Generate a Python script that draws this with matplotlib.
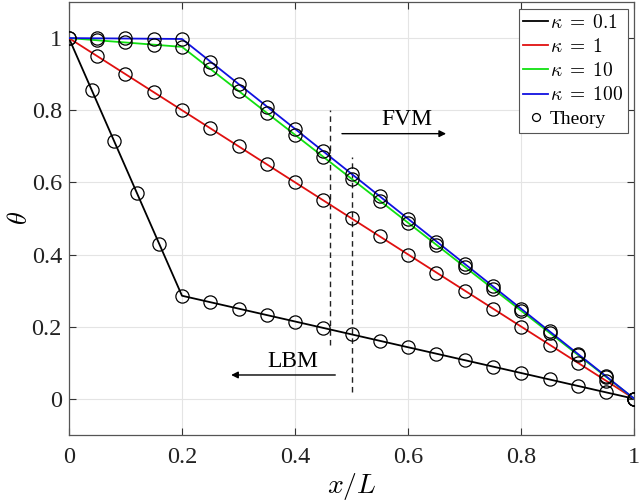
import matplotlib
matplotlib.use("Agg")
import matplotlib.pyplot as plt

plt.rcParams['font.family'] = ['Liberation Serif', 'DejaVu Serif']
plt.rcParams['mathtext.fontset'] = 'cm'

# numerical solution lines (piecewise linear)
line_x = [0.0, 0.2, 1.0]
line_k01 = [1.0, 0.2857, 0.0]
line_k1 = [1.0, 0.8, 0.0]
line_k10 = [1.0, 0.9756, 0.0]
line_k100 = [1.0, 0.9975, 0.0]

# theory markers
th_x_k01 = [0.0, 0.04, 0.08, 0.12, 0.16, 0.2, 0.25, 0.3, 0.35, 0.4, 0.45, 0.5,
            0.55, 0.6, 0.65, 0.7, 0.75, 0.8, 0.85, 0.9, 0.95, 1.0]
th_y_k01 = [1.0, 0.857, 0.714, 0.571, 0.429, 0.286, 0.268, 0.25, 0.232, 0.214, 0.196, 0.179,
            0.161, 0.143, 0.125, 0.107, 0.089, 0.071, 0.054, 0.036, 0.018, 0.0]
th_x_k1 = [0.0, 0.05, 0.1, 0.15, 0.2, 0.25, 0.3, 0.35, 0.4, 0.45, 0.5,
           0.55, 0.6, 0.65, 0.7, 0.75, 0.8, 0.85, 0.9, 0.95, 1.0]
th_y_k1 = [1.0, 0.95, 0.9, 0.85, 0.8, 0.75, 0.7, 0.65, 0.6, 0.55, 0.5,
           0.45, 0.4, 0.35, 0.3, 0.25, 0.2, 0.15, 0.1, 0.05, 0.0]
th_x_k10 = [0.05, 0.1, 0.15, 0.2, 0.25, 0.3, 0.35, 0.4, 0.45, 0.5,
            0.55, 0.6, 0.65, 0.7, 0.75, 0.8, 0.85, 0.9, 0.95, 1.0]
th_y_k10 = [0.994, 0.988, 0.982, 0.976, 0.915, 0.854, 0.793, 0.732, 0.671, 0.610,
            0.549, 0.488, 0.427, 0.366, 0.305, 0.244, 0.183, 0.122, 0.061, 0.0]
th_x_k100 = th_x_k10
th_y_k100 = [0.999, 0.999, 0.998, 0.998, 0.935, 0.873, 0.810, 0.748, 0.686, 0.623,
             0.561, 0.499, 0.436, 0.374, 0.312, 0.249, 0.187, 0.125, 0.062, 0.0]

labels = [r'$\kappa\;=\;0.1$', r'$\kappa\;=\;1$', r'$\kappa\;=\;10$', r'$\kappa\;=\;100$']
colors = ['black', '#e01010', '#10e010', '#1010e0']

fig = plt.figure(figsize=(6.44, 5.01), dpi=100)
ax = fig.add_axes([0.107, 0.132, 0.878, 0.864])

for ly, lab, c in zip([line_k01, line_k1, line_k10, line_k100], labels, colors):
    ax.plot(line_x, ly, color=c, lw=1.3, label=lab, zorder=3)

mk = dict(ls='none', marker='o', mfc='none', mec='black', ms=9.5, mew=0.9, zorder=4)
ax.plot(th_x_k01, th_y_k01, label='Theory', **mk)
ax.plot(th_x_k1, th_y_k1, **mk)
ax.plot(th_x_k10, th_y_k10, **mk)
ax.plot(th_x_k100, th_y_k100, **mk)

# dashed interface markers
ax.plot([0.461, 0.461], [0.15, 0.8], ls=(0, (4, 3)), color='#222222', lw=1.0, zorder=2)
ax.plot([0.501, 0.501], [0.02, 0.67], ls=(0, (4, 3)), color='#222222', lw=1.0, zorder=2)

# arrows and labels
ax.annotate('', xy=(0.672, 0.735), xytext=(0.478, 0.735),
            arrowprops=dict(arrowstyle='-|>', color='black', lw=1.0, mutation_scale=10))
ax.text(0.597, 0.775, 'FVM', ha='center', va='center', fontsize=17)
ax.annotate('', xy=(0.282, 0.066), xytext=(0.476, 0.066),
            arrowprops=dict(arrowstyle='-|>', color='black', lw=1.0, mutation_scale=10))
ax.text(0.396, 0.104, 'LBM', ha='center', va='center', fontsize=17)

ax.set_xlim(0, 1)
ax.set_ylim(-0.1, 1.1)
ax.set_xticks([0, 0.2, 0.4, 0.6, 0.8, 1])
ax.set_xticklabels(['0', '0.2', '0.4', '0.6', '0.8', '1'])
ax.set_yticks([0, 0.2, 0.4, 0.6, 0.8, 1])
ax.set_yticklabels(['0', '0.2', '0.4', '0.6', '0.8', '1'])
ax.tick_params(direction='in', top=True, right=True, labelsize=17.5, length=5, width=0.8,
               colors='#333333', labelcolor='#222222')
ax.tick_params(axis='x', pad=9)
ax.tick_params(axis='y', pad=5)
ax.grid(True, color='#e4e4e4', lw=0.8)
ax.set_axisbelow(True)
for s in ax.spines.values():
    s.set_color('#555555')
    s.set_linewidth(0.9)

ax.set_xlabel(r'$x/L$', fontsize=20, labelpad=2)
ax.set_ylabel(r'$\theta$', fontsize=19, labelpad=0)

leg = ax.legend(loc='upper right', fontsize=14, handlelength=1.25, handletextpad=0.1,
                borderpad=0.25, labelspacing=0.32, markerscale=0.6, fancybox=False,
                framealpha=1, edgecolor='#555555', borderaxespad=0.35)
leg.get_frame().set_linewidth(0.8)

fig.savefig('out.png', dpi=100)
